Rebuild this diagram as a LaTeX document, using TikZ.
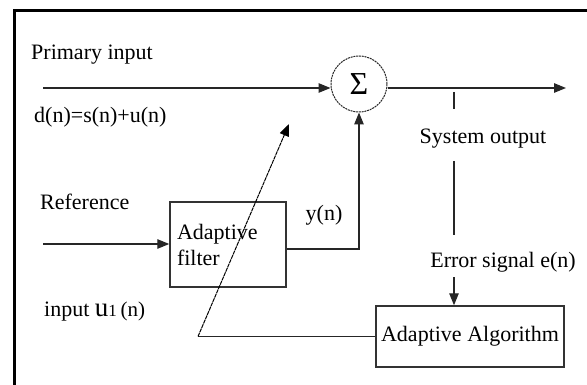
\documentclass[tikz,border=0pt]{standalone}
\usepackage{fontspec}
\setmainfont{Liberation Serif}
\usetikzlibrary{arrows.meta}
\tikzset{
  wire/.style={line width=1.2pt, draw=black!85},
  arr/.style={wire, -{Triangle[length=12pt,width=9.5pt]}},
  diag/.style={line width=1pt, draw=black, dash pattern=on 4pt off 0.7pt},
  box/.style={draw=black!80, line width=1.5pt, inner sep=0pt},
  lbl/.style={inner sep=0pt, font=\fontsize{22}{26}\selectfont}
}
\begin{document}
\begin{tikzpicture}[x=1pt,y=-1pt]
\useasboundingbox (0,0) rectangle (587,385);
% frame
\draw[line width=3pt] (14,385) -- (14,11) -- (587,11);
% nodes
\node[draw=black!85, line width=1pt, dash pattern=on 2pt off 0.8pt, circle, minimum size=56pt, inner sep=0pt,
      font=\fontsize{32}{32}\selectfont] (sum) at (359,84) {Σ};
\node[box, lbl, minimum height=85pt, align=left, text width=102pt, inner xsep=7pt] (filt) at (228,244.5) {Adaptive\\filter};
\node[box, lbl, minimum width=188pt, minimum height=61pt] (alg) at (470,336.5) {Adaptive Algorithm};
% labels
\node[lbl, anchor=west] (prim) at (31,55) {Primary input};
\node[lbl, anchor=west] (dn) at (34,117) {d(n)=s(n)+u(n)};
\node[lbl, anchor=west] (ref) at (40,202) {Reference};
\node[lbl, anchor=west] (uin) at (44,312) {input {\fontsize{27}{27}\selectfont u}{\fontsize{17}{17}\selectfont 1}\,{\fontsize{21}{21}\selectfont (n)}};
\node[lbl] (yn) at (324,215) {y(n)};
\node[lbl] (sysout) at (483,139) {System output};
\node[lbl] (err) at (503,262) {Error signal e(n)};
% coordinates
\coordinate (pin) at (43,88);
\coordinate (out) at (566,88);
\coordinate (t1) at (454,92);
\coordinate (t2) at (454,109);
\coordinate (t3) at (454,161);
\coordinate (t4) at (454,235);
\coordinate (t5) at (454,277);
\coordinate (rin) at (43,244);
\coordinate (fb) at (198,336.5);
\coordinate (tip) at (289,124);
% connectors
\draw[arr] (pin) -- (pin -| sum.west);
\draw[arr] (sum.east |- pin) -- (out);
\draw[wire] (t1) -- (t2);
\draw[wire] (t3) -- (t4);
\draw[arr] (t5) -- (t5 |- alg.north);
\draw[arr] (rin) -- (rin -| filt.west);
\draw[arr] ([yshift=-4.5pt]filt.east) -| (sum.south);
\draw[wire] (alg.west) -- (fb);
\draw[diag, -{Triangle[length=12pt,width=9.5pt]}] (fb) -- (tip);
\end{tikzpicture}
\end{document}
